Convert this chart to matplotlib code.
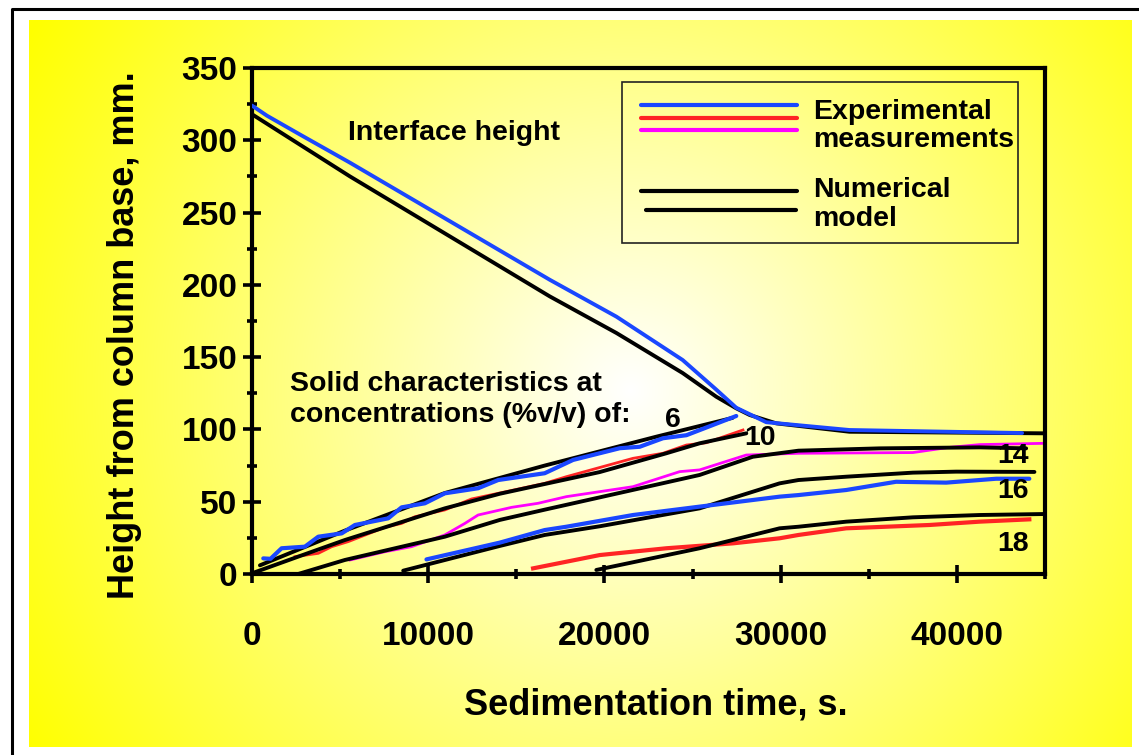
import numpy as np
import matplotlib
matplotlib.use('Agg')
import matplotlib.pyplot as plt
from matplotlib.patches import Rectangle

plt.rcParams['font.family'] = ['Liberation Sans', 'DejaVu Sans']
plt.rcParams['font.weight'] = 'bold'

# ---------------- data (time in s, height in mm) ----------------
interface_exp_t = [0, 850, 2720, 5560, 11230, 16900, 20680, 24440, 26350, 27480, 29180, 33900, 43700]
interface_exp_h = [324, 317, 304, 284.5, 244, 203.5, 178, 148, 127.5, 115, 105, 99.6, 97.5]

interface_mod_t = [0, 5560, 11230, 16900, 20680, 24440, 26350, 27480, 28240, 29750, 33900, 45000]
interface_mod_h = [318, 275, 233.5, 192, 166.7, 139, 122.6, 114.6, 110, 104.2, 98.4, 97.3]

exp6_t = [640, 1050, 1680, 3000, 3760, 5090, 5840, 7730, 8490, 9810, 10940, 12830, 13970,
          16610, 18220, 20870, 22000, 23320, 24650, 27480]
exp6_h = [10.8, 10.5, 17.8, 18.9, 25.8, 28.1, 33.9, 38.5, 46.1, 48.9, 55.8, 59.3, 65,
          69.7, 78.9, 87, 88, 93.9, 96, 109.3]
mod6_t = [450, 5270, 10940, 16610, 22950, 27270]
mod6_h = [6.0, 30.0, 56.0, 75.0, 95.0, 108.0]

exp10_t = [2440, 3760, 4520, 5460, 7540, 8490, 9240, 10940, 12460, 14400, 16610, 17840,
           21620, 23320, 24650, 25780, 27860]
exp10_h = [12, 14.3, 18.9, 22.4, 32.3, 35, 39.6, 44.3, 51.9, 56.9, 62.7, 67.3,
           80, 83.5, 89.2, 90.8, 99.6]
mod10_t = [0, 2620, 5270, 10940, 14060, 19730, 23510, 25400, 28050]
mod10_h = [0.5, 12, 23.5, 45.4, 55.5, 70.5, 83.5, 90.4, 97.3]

exp14_t = [5560, 7540, 9050, 10940, 12080, 12830, 14730, 16230, 17840, 21620, 24270, 25400,
           28050, 31010, 37500, 39500, 41300, 45000]
exp14_h = [9.7, 15.4, 18.9, 27, 35, 40.8, 46.1, 48.9, 53.5, 60.4, 70.8, 72,
           82.3, 83.5, 84, 87.5, 89.5, 90.4]
mod14_t = [2620, 5270, 10940, 14060, 16610, 19730, 25400, 28420, 31010, 35610, 41280, 43930]
mod14_h = [0, 9.7, 25.8, 37.4, 44.5, 53, 68.5, 81.1, 85.3, 86.9, 87.6, 86.9]

exp16_t = [9900, 14060, 16610, 17840, 21620, 25400, 29940, 31010, 33720, 36550, 39390, 42230, 44110]
exp16_h = [10.1, 21.7, 30.4, 32.7, 40.8, 46.6, 53.5, 54.6, 58.1, 63.8, 63.2, 65.9, 65.9]
mod16_t = [8580, 14060, 16610, 19730, 25400, 29940, 31010, 33720, 37500, 39960, 44400]
mod16_h = [2.3, 19.4, 27, 33, 45.4, 62.7, 65, 67.3, 70.1, 70.8, 70.6]

exp18_t = [15950, 19730, 23510, 27290, 29940, 31010, 33720, 38440, 41280, 44110]
exp18_h = [3.9, 13.1, 17.8, 21.2, 24.7, 27, 31.6, 33.9, 36.2, 37.8]
mod18_t = [19540, 25400, 29940, 31010, 33720, 37500, 41280, 45000]
mod18_h = [2.8, 17.8, 31.6, 32.7, 36.2, 39.2, 40.8, 41.5]

x_major = [0, 10000, 20000, 30000, 40000]
x_minor = [5000, 15000, 25000, 35000, 45000]
y_major = [0, 50, 100, 150, 200, 250, 300, 350]
y_minor = [25, 75, 125, 175, 225, 275, 325]

BLUE = '#1a47ff'
RED = '#ff2424'
MAGENTA = '#ff00ff'

# ---------------- figure & background ----------------
W, H = 1139, 755
fig = plt.figure(figsize=(W / 100, H / 100), dpi=100)
fig.patch.set_facecolor('white')

bg = fig.add_axes([0, 0, 1, 1], zorder=0)
x0, x1, y0, y1 = 29, 1132, 20, 747
xx, yy = np.meshgrid(np.arange(x0, x1), np.arange(y0, y1))
cx, cy = 630, 390
d = np.hypot(xx - cx, yy - cy)
tt = np.clip(d / 700.0, 0, 1)
img = np.ones((yy.shape[0], yy.shape[1], 3))
img[..., 2] = 1 - tt
bg.imshow(img, extent=(x0, x1, y1, y0), aspect='auto', interpolation='bilinear')
bg.plot([12, 12, W], [H, 9, 9], color='black', lw=2.2, solid_capstyle='butt')
bg.set_xlim(0, W)
bg.set_ylim(H, 0)
bg.axis('off')

# ---------------- main axes ----------------
ax = fig.add_axes([252 / W, 1 - 574 / H, (1045 - 252) / W, (574 - 68) / H], zorder=1)
ax.set_facecolor('none')
ax.set_xlim(0, 45000)
ax.set_ylim(0, 350)
for s in ax.spines.values():
    s.set_linewidth(3.0)

ax.set_xticks(x_major)
ax.set_xticklabels([str(v) for v in x_major])
ax.set_xticks(x_minor, minor=True)
ax.set_yticks(y_major)
ax.set_yticks(y_minor, minor=True)
ax.tick_params(which='major', direction='inout', length=13, width=2.6, labelsize=24)
ax.tick_params(which='minor', direction='inout', length=7, width=2.6)
ax.tick_params(axis='x', which='major', pad=27)
ax.tick_params(axis='y', which='major', pad=4)

ax.set_xlabel('Sedimentation time, s.', fontsize=26, fontweight='bold', va='center')
ax.xaxis.set_label_coords((656 - 252) / 793, -(705 - 574) / 506)
ax.set_ylabel('Height from column base, mm.', fontsize=26, fontweight='bold', va='center')
ax.yaxis.set_label_coords(-(252 - 125) / 793, (574 - 335) / 506)

# lines
ax.plot(exp10_t, exp10_h, color=RED, lw=2.0, zorder=2)
ax.plot(exp14_t, exp14_h, color=MAGENTA, lw=2.0, zorder=2)
ax.plot(exp18_t, exp18_h, color=RED, lw=3.0, zorder=2)
for tx, hy in [(interface_mod_t, interface_mod_h), (mod6_t, mod6_h), (mod10_t, mod10_h),
               (mod14_t, mod14_h), (mod16_t, mod16_h), (mod18_t, mod18_h)]:
    ax.plot(tx, hy, color='black', lw=2.8, zorder=3, solid_capstyle='round')
ax.plot(interface_exp_t, interface_exp_h, color=BLUE, lw=2.8, zorder=4, solid_capstyle='round')
ax.plot(exp6_t, exp6_h, color=BLUE, lw=3.0, zorder=4, solid_capstyle='round')
ax.plot(exp16_t, exp16_h, color=BLUE, lw=3.0, zorder=4, solid_capstyle='round')

# ---------------- annotations ----------------
def fx(x):
    return x / W

def fy(y):
    return 1 - y / H

fig.text(fx(348), fy(133), 'Interface height', fontsize=20.5, fontweight='bold', va='center', ha='left')
fig.text(fx(290), fy(384), 'Solid characteristics at', fontsize=20.5, fontweight='bold', va='center', ha='left')
fig.text(fx(290), fy(415), 'concentrations (%v/v) of:', fontsize=20.5, fontweight='bold', va='center', ha='left')
for lab, (px, py) in {'6': (673, 420), '10': (760, 438), '14': (1013, 456),
                      '16': (1013, 491), '18': (1013, 544)}.items():
    fig.text(fx(px), fy(py), lab, fontsize=20.5, fontweight='bold', va='center', ha='center')

# ---------------- legend (manual) ----------------
ov = fig.add_axes([0, 0, 1, 1], zorder=5)
ov.set_facecolor('none')
ov.set_xlim(0, W)
ov.set_ylim(H, 0)
ov.axis('off')
ov.add_patch(Rectangle((622, 82), 1018 - 622, 243 - 82, fill=False, ec='#222222', lw=1.2))
ov.plot([641, 797], [105, 105], color=BLUE, lw=3.0, solid_capstyle='round')
ov.plot([641, 797], [118, 118], color=RED, lw=3.0, solid_capstyle='round')
ov.plot([641, 797], [130, 130], color=MAGENTA, lw=3.0, solid_capstyle='round')
ov.plot([641, 797], [191, 191], color='black', lw=3.0, solid_capstyle='round')
ov.plot([646, 796], [210, 210], color='black', lw=3.0, solid_capstyle='round')
fig.text(fx(813), fy(112), 'Experimental', fontsize=20.5, fontweight='bold', va='center', ha='left')
fig.text(fx(813), fy(140), 'measurements', fontsize=20.5, fontweight='bold', va='center', ha='left')
fig.text(fx(813), fy(190), 'Numerical', fontsize=20.5, fontweight='bold', va='center', ha='left')
fig.text(fx(813), fy(219), 'model', fontsize=20.5, fontweight='bold', va='center', ha='left')

fig.savefig('out.png', dpi=100, facecolor='white')
